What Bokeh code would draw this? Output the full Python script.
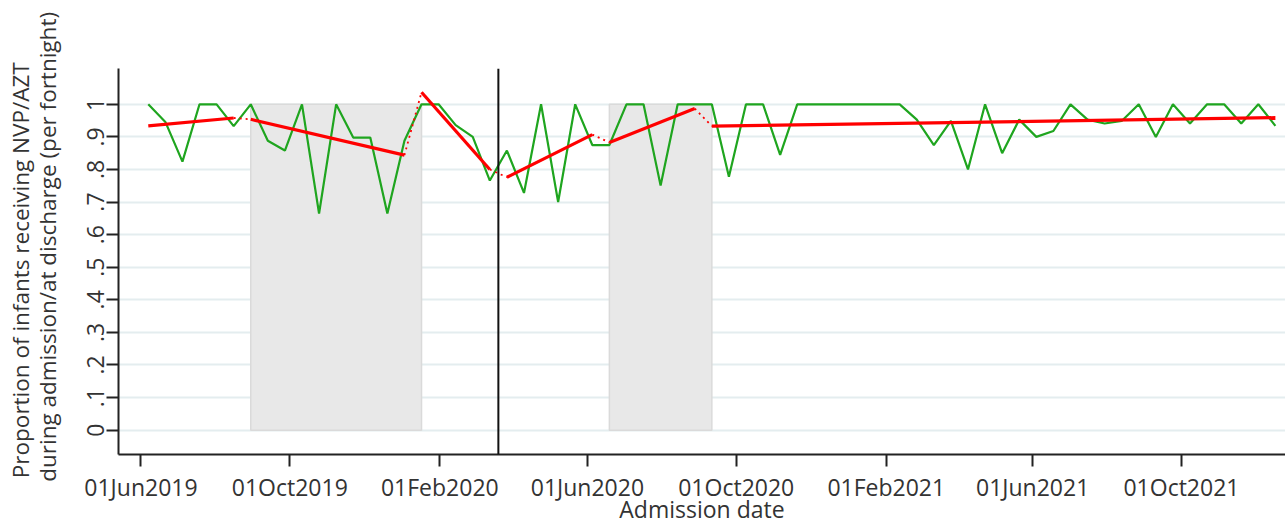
import math
from datetime import datetime, timedelta
from bokeh.plotting import figure
from bokeh.models import (Range1d, FixedTicker, Span,
                          DatetimeTickFormatter, ColumnDataSource)
from bokeh.embed import file_html
from bokeh.resources import INLINE

# ---------------- data ----------------
first_fortnight = "2019-06-07"          # first fortnight plotted
fortnight_days = 14
proportion = [1.0, 0.946, 0.824, 1.0, 1.0, 0.933, 1.0, 0.888, 0.858, 1.0,
              0.665, 1.0, 0.898, 0.898, 0.665, 0.888, 1.0, 1.0, 0.936, 0.90,
              0.766, 0.858, 0.728, 1.0, 0.700, 1.0, 0.875, 0.875, 1.0, 1.0,
              0.751, 1.0, 1.0, 1.0, 0.778, 1.0, 1.0, 0.845, 1.0, 1.0,
              1.0, 1.0, 1.0, 1.0, 1.0, 0.953, 0.875, 0.949, 0.80, 1.0,
              0.85, 0.953, 0.90, 0.918, 1.0, 0.953, 0.941, 0.949, 1.0, 0.90,
              1.0, 0.941, 1.0, 1.0, 0.941, 1.0, 0.934]

# segmented-regression fitted lines (start / end fortnight index and value)
seg_start_idx = [0, 6, 16, 21, 27, 33]
seg_end_idx = [5, 15, 20, 26, 32, 66]
seg_start_val = [0.934, 0.954, 1.037, 0.776, 0.883, 0.933]
seg_end_val = [0.958, 0.844, 0.800, 0.907, 0.987, 0.959]

# shaded periods
shade_start = ["2019-08-30", "2020-06-19"]
shade_end = ["2020-01-17", "2020-09-11"]
shade_bottom = [0.0, 0.0]
shade_top = [1.0, 1.0]

covid_date = "2020-03-20"

x_tick_dates = ["2019-06-01", "2019-10-01", "2020-02-01", "2020-06-01",
                "2020-10-01", "2021-02-01", "2021-06-01", "2021-10-01"]
y_ticks = [0, 0.1, 0.2, 0.3, 0.4, 0.5, 0.6, 0.7, 0.8, 0.9, 1]
y_tick_labels = ["0", ".1", ".2", ".3", ".4", ".5", ".6", ".7", ".8", ".9", "1"]

y_title_1 = "Proportion of infants receiving NVP/AZT"
y_title_2 = "during admission/at discharge (per fortnight)"
x_title = "Admission date"

# ---------------- helpers ----------------
def d(s):
    return datetime.strptime(s, "%Y-%m-%d")

def ms(dt):
    return (dt - datetime(1970, 1, 1)).total_seconds() * 1000.0

start0 = d(first_fortnight)
dates = [start0 + timedelta(days=fortnight_days * i) for i in range(len(proportion))]

FONT = "Open Sans"
TXT = "#333333"
FS = "23px"

p = figure(width=1285, height=527, x_axis_type="datetime",
           output_backend="svg", toolbar_location=None,
           x_range=Range1d(datetime(2019, 5, 13, 14), datetime(2021, 12, 25, 7)),
           y_range=Range1d(-0.0748, 1.1099),
           min_border_left=118, min_border_right=0,
           min_border_top=68, min_border_bottom=71)
p.outline_line_color = None
p.background_fill_color = "white"
p.border_fill_color = "white"

# grid
p.xgrid.visible = False
p.ygrid.ticker = FixedTicker(ticks=y_ticks)
p.ygrid.grid_line_color = "#E4EDEF"
p.ygrid.grid_line_width = 2

# shaded periods
shade_src = ColumnDataSource(dict(left=[d(s) for s in shade_start],
                                  right=[d(s) for s in shade_end],
                                  bottom=shade_bottom, top=shade_top))
p.quad(left="left", right="right", bottom="bottom", top="top", source=shade_src,
       fill_color="#E8E8E8", line_color="#DADADA", line_width=1.5)

# covid line
p.add_layout(Span(location=ms(d(covid_date)), dimension="height",
                  line_color="#111111", line_width=2))

# observed series
p.line(dates, proportion, line_color="#1FA51F", line_width=2.2)

# fitted segments and dotted connectors
for k in range(len(seg_start_idx)):
    p.line([dates[seg_start_idx[k]], dates[seg_end_idx[k]]],
           [seg_start_val[k], seg_end_val[k]],
           line_color="#FF0000", line_width=3.2)
    if k + 1 < len(seg_start_idx):
        p.line([dates[seg_end_idx[k]], dates[seg_start_idx[k + 1]]],
               [seg_end_val[k], seg_start_val[k + 1]],
               line_color="#FF0000", line_width=1.8, line_dash="2 4")

# axes
ax = p.xaxis[0]
ax.ticker = FixedTicker(ticks=[ms(d(s)) for s in x_tick_dates])
fmt = "%d%b%Y"
ax.formatter = DatetimeTickFormatter(milliseconds=fmt, seconds=fmt, minsec=fmt,
                                     minutes=fmt, hourmin=fmt, hours=fmt,
                                     days=fmt, months=fmt, years=fmt)
ax.axis_label = x_title
ax.major_label_standoff = 4
ax.axis_label_standoff = -13

ay = p.yaxis[0]
ay.ticker = FixedTicker(ticks=y_ticks)
ay.major_label_overrides = {t: l for t, l in zip(y_ticks, y_tick_labels)}
ay.major_label_orientation = "vertical"
nb = "\u00a0"
ay.axis_label = y_title_1 + nb * 3 + "\n" + nb * 5 + y_title_2
ay.major_label_standoff = 2
ay.axis_label_standoff = 22

for a in (ax, ay):
    a.axis_line_color = "#222222"
    a.axis_line_width = 2
    a.major_tick_line_color = "#222222"
    a.major_tick_line_width = 2
    a.major_tick_in = 0
    a.major_tick_out = 12
    a.minor_tick_line_color = None
    a.major_label_text_font = FONT
    a.major_label_text_font_size = FS
    a.major_label_text_color = TXT
    a.axis_label_text_font = FONT
    a.axis_label_text_font_size = FS
    a.axis_label_text_font_style = "normal"
    a.axis_label_text_color = TXT

ay.axis_label_text_font_size = "22.5px"
ay.axis_label_text_line_height = 0.85

open("out.html", "w").write(file_html(p, INLINE))
